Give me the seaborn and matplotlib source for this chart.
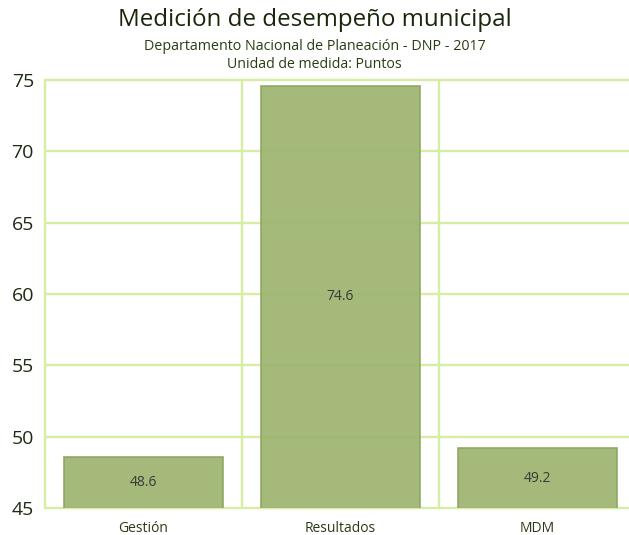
import matplotlib
matplotlib.use("Agg")
import matplotlib.pyplot as plt
import seaborn as sns
import pandas as pd
import numpy as np

categories = ["Gestión", "Resultados", "MDM"]
values = [48.6, 74.6, 49.2]
yticks = [45, 50, 55, 60, 65, 70, 75]

sns.set_theme(style="white")
plt.rcParams['font.family'] = ['Open Sans', 'DejaVu Sans']

df = pd.DataFrame({"cat": categories, "val": values})

fig = plt.figure(figsize=(6.29, 5.35), dpi=100)
ax = fig.add_axes([45/629, 27/535, 584/629, 428/535])

grid_c = "#d6eea4"
sns.barplot(data=df, x="cat", y="val", ax=ax, color="#9fb673", width=0.81,
            edgecolor="#8da661", linewidth=1.2, saturation=1, alpha=0.95, zorder=3)

ax.set_ylim(45, 75)
ax.set_xlim(-0.5, (629-45)/197 - 0.5)
ax.set_yticks(yticks)
ax.set_yticklabels([str(t) for t in yticks], fontsize=14, color="#1f2a12")
ax.tick_params(axis="y", length=0, pad=8)
ax.tick_params(axis="x", length=0, pad=9, labelsize=10, labelcolor="#2b3a16")
ax.set_xlabel("")
ax.set_ylabel("")

for y in yticks:
    ax.axhline(y, color=grid_c, lw=1.7, zorder=1, clip_on=False)
for x in [-0.5, 0.5, 1.5]:
    ax.axvline(x, color=grid_c, lw=1.7, zorder=1, clip_on=False)
for s in ax.spines.values():
    s.set_visible(False)

for i, v in enumerate(values):
    ax.text(i, 45 + (v - 45) / 2, f"{v:.1f}", ha="center", va="center",
            fontsize=10, color="#3a3a3a", zorder=5)

fig.text(0.5, 1 - 20/535, "Medición de desempeño municipal", ha="center", va="center",
         fontsize=17.4, color="#1a260c")
fig.text(0.5, 1 - 46/535, "Departamento Nacional de Planeación - DNP - 2017", ha="center",
         va="center", fontsize=10.3, color="#2a3d12")
fig.text(0.5, 1 - 64/535, "Unidad de medida: Puntos", ha="center", va="center",
         fontsize=10.2, color="#2a3d12")

fig.savefig("out.png", dpi=100)
